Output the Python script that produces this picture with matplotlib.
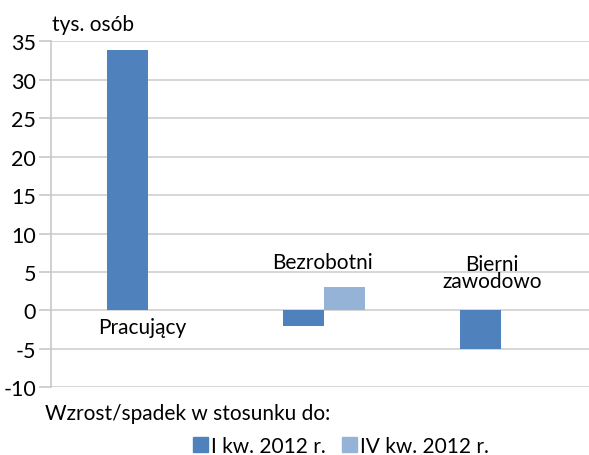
import matplotlib
matplotlib.use("Agg")
import matplotlib.pyplot as plt
from matplotlib.patches import Patch
import numpy as np

categories = ["Pracujący", "Bezrobotni", "Bierni\nzawodowo"]
series_names = ["I kw. 2012 r.", "IV kw. 2012 r."]
vals_q1 = [33.9, -2.0, -5.0]
vals_q4 = [0.0, 3.1, 0.0]
yticks = [-10, -5, 0, 5, 10, 15, 20, 25, 30, 35]
colors = ["#4F81BD", "#95B3D7"]

plt.rcParams['font.family'] = ['Lato', 'DejaVu Sans']
FS = 15

fig = plt.figure(figsize=(5.89, 4.56), dpi=100)
ax = fig.add_axes([50.7/589, 1-388.3/456, 1-50.7/589, (388.3-42.3)/456])

x = np.arange(len(categories))
w = 0.232
ax.bar(x - w/2, vals_q1, w, color=colors[0], zorder=3)
ax.bar(x + w/2, vals_q4, w, color=colors[1], zorder=3)

ax.set_xlim(-0.551, 2.5)
ax.set_ylim(-10, 35)
ax.set_yticks(yticks)
ax.set_yticklabels([str(t) for t in yticks], fontsize=FS + 0.5, color="#000000")
ax.set_xticks([])
ax.grid(axis='y', color="#d0d0d0", linewidth=1.2, zorder=0)
for s in ['top', 'right', 'bottom']:
    ax.spines[s].set_visible(False)
ax.spines['left'].set_color("#c8c8c8")
ax.spines['left'].set_linewidth(1.2)
ax.tick_params(axis='y', length=9, width=1.2, color="#c8c8c8", pad=1.5)

# category labels
label_pos = [(-0.03, -2.1), (0.99, 6.3), (1.95, 4.9)]
for lab, (lx, ly) in zip(categories, label_pos):
    ax.text(lx, ly, lab, ha='center', va='center', fontsize=FS,
            linespacing=0.8, zorder=4)

fig.text(52/589, 1-25/456, "tys. osób", ha='left', va='center', fontsize=FS)
fig.text(45/589, 1-414/456, "Wzrost/spadek w stosunku do:", ha='left',
         va='center', fontsize=FS)

handles = [Patch(color=c, label=n) for c, n in zip(colors, series_names)]
fig.legend(handles=handles, loc='center left', bbox_to_anchor=(193/589, 1-447/456),
           ncol=2, frameon=False, fontsize=FS, handlelength=0.7,
           handleheight=0.7, handletextpad=0.15, columnspacing=0.8,
           borderaxespad=0, borderpad=0)

fig.savefig("out.png", dpi=100)
